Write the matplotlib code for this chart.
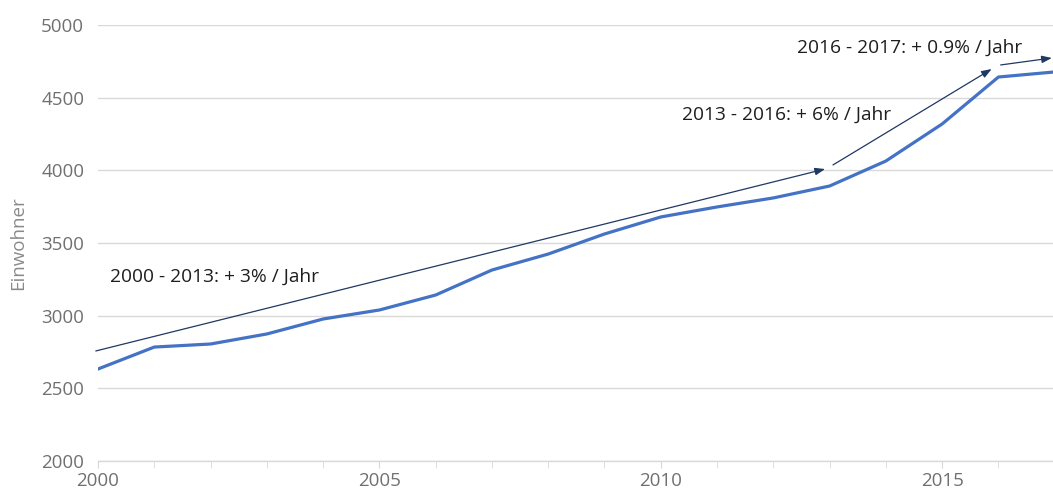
import matplotlib
matplotlib.use("Agg")
import matplotlib.pyplot as plt
from matplotlib.ticker import MultipleLocator

years = [2000, 2001, 2002, 2003, 2004, 2005, 2006, 2007, 2008,
         2009, 2010, 2011, 2012, 2013, 2014, 2015, 2016, 2017]
einwohner = [2633, 2784, 2805, 2874, 2977, 3039, 3142, 3314, 3424,
             3562, 3679, 3748, 3810, 3892, 4064, 4319, 4642, 4677]

# trend arrows: (x0, y0, x1, y1) in data units, plus label text
trend_arrows = [
    (1999.96, 2757, 2012.92, 4009),
    (2013.06, 4037, 2015.88, 4697),
    (2016.04, 4725, 2016.95, 4773),
]
trend_labels = ["2000 - 2013: + 3% / Jahr",
                "2013 - 2016: + 6% / Jahr",
                "2016 - 2017: + 0.9% / Jahr"]
label_pos = [(2000.21, 3265), (2010.37, 4380), (2012.42, 4845)]

plt.rcParams['font.family'] = ['Open Sans', 'DejaVu Sans']

fig = plt.figure(figsize=(10.53, 4.90), dpi=100)
ax = fig.add_axes([0.0931, 0.0592, 0.9069, 0.8898])

ax.plot(years, einwohner, color='#4472C4', lw=2.3, solid_joinstyle='round', zorder=3)

for (x0, y0, x1, y1) in trend_arrows:
    ax.annotate('', xy=(x1, y1), xytext=(x0, y0),
                arrowprops=dict(arrowstyle='-|>,head_length=0.6,head_width=0.22',
                                color='#1F3864', lw=0.9, shrinkA=0, shrinkB=0),
                annotation_clip=False, zorder=4)

for txt, (x, y) in zip(trend_labels, label_pos):
    ax.text(x, y, txt, fontsize=13.8, color='#1e1e1e', va='center', ha='left')

ax.set_xlim(2000, 2016.97)
ax.set_ylim(2000, 5000)
ax.yaxis.set_major_locator(MultipleLocator(500))
ax.xaxis.set_major_locator(MultipleLocator(5))
ax.xaxis.set_minor_locator(MultipleLocator(1))

ax.grid(axis='y', color='#d9d9d9', lw=1.0)
ax.set_axisbelow(True)
for s in ['top', 'right', 'left']:
    ax.spines[s].set_visible(False)
ax.spines['bottom'].set_color('#d9d9d9')
ax.spines['bottom'].set_linewidth(1.0)

ax.tick_params(axis='y', length=0, labelsize=13.5, labelcolor='#707070', pad=10)
ax.tick_params(axis='x', which='both', direction='out', length=5, color='#d9d9d9',
               labelsize=13.5, labelcolor='#707070', pad=3)

ax.set_ylabel('Einwohner', fontsize=13.5, color='#8a8a8a', labelpad=10)

fig.savefig('out.png', dpi=100)
